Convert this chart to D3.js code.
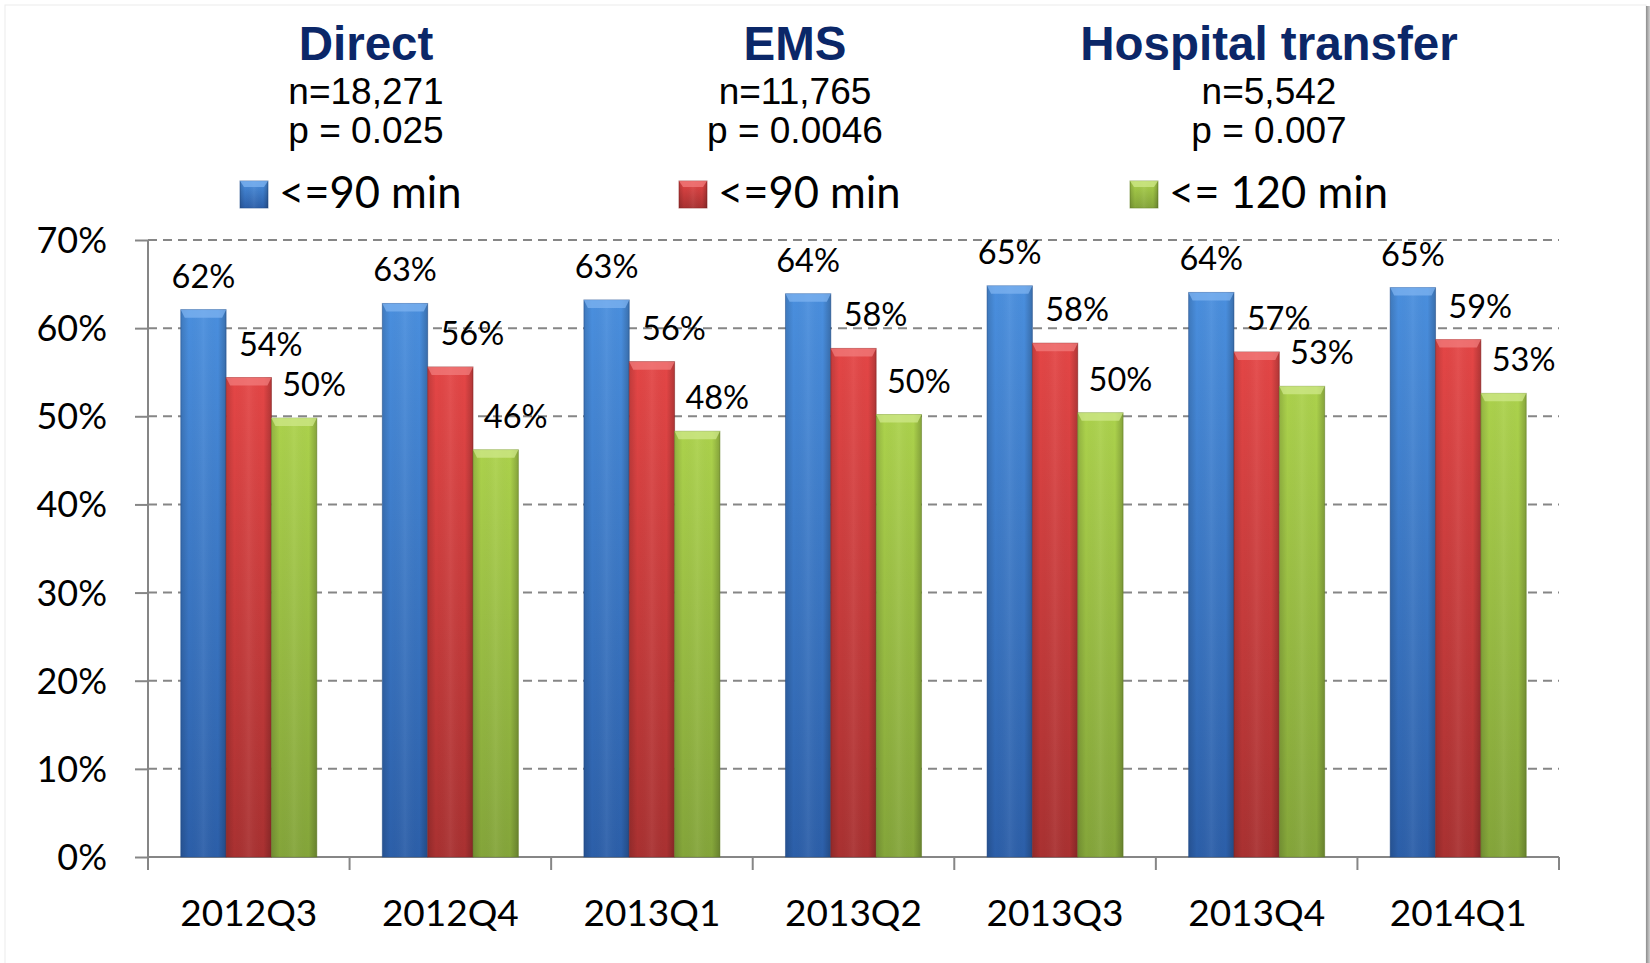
<!DOCTYPE html>
<html>
<head>
<meta charset="utf-8">
<title>Door-to-balloon by arrival mode</title>
<style>
body { margin: 0; background: #fff; }
.grid line { stroke: #868686; stroke-width: 2px; stroke-dasharray: 9, 6; }
.axis path, .axis line { stroke: #868686; stroke-width: 2px; fill: none; }
.cal { font-family: Lato, "Open Sans", sans-serif; fill: #000; }
.ttl { font-family: "Liberation Sans", Arial, sans-serif; font-weight: bold; fill: #0b2768; }
.sub { font-family: "Liberation Sans", Arial, sans-serif; fill: #000; }
</style>
</head>
<body>
<script src="https://cdn.jsdelivr.net/npm/d3@7"></script>
<script>

var quarters = ["2012Q3", "2012Q4", "2013Q1", "2013Q2", "2013Q3", "2013Q4", "2014Q1"];
var direct = [62.1, 62.8, 63.2, 63.9, 64.8, 64.05, 64.6];
var ems = [54.4, 55.6, 56.2, 57.7, 58.3, 57.3, 58.7];
var transfer = [49.8, 46.2, 48.3, 50.2, 50.4, 53.4, 52.6];
var yTicks = [0, 10, 20, 30, 40, 50, 60, 70];

var groupTitles = ["Direct", "EMS", "Hospital transfer"];
var groupN = ["n=18,271", "n=11,765", "n=5,542"];
var groupP = ["p = 0.025", "p = 0.0046", "p = 0.007"];
var legendLabels = ["<=90 min", "<=90 min", "<= 120 min"];

var series = [
  {key: "direct", values: direct, top: "#4a8fde", bot: "#2c5fa9", bevel: "#7db3f0", edge: "#24508f", dx: 0},
  {key: "ems", values: ems, top: "#e44646", bot: "#a93131", bevel: "#f27c7c", edge: "#8c2727", dx: 22},
  {key: "transfer", values: transfer, top: "#acd24c", bot: "#84a53a", bevel: "#cfe889", edge: "#6c8a2c", dx: 20}
];

var width = 1650, height = 963;
var plotL = 148, plotR = 1559, plotT = 240, plotB = 857;

var svg = d3.select("body").append("svg")
    .attr("width", width)
    .attr("height", height);

var defs = svg.append("defs");

series.forEach(function(s) {
  var g = defs.append("linearGradient").attr("id", "v-" + s.key)
      .attr("x1", 0).attr("y1", 0).attr("x2", 0).attr("y2", 1);
  g.append("stop").attr("offset", "0%").attr("stop-color", s.top);
  g.append("stop").attr("offset", "100%").attr("stop-color", s.bot);
});

var hs = defs.append("linearGradient").attr("id", "shade")
    .attr("x1", 0).attr("y1", 0).attr("x2", 1).attr("y2", 0);
hs.append("stop").attr("offset", "0%").attr("stop-color", "#000").attr("stop-opacity", 0.15);
hs.append("stop").attr("offset", "18%").attr("stop-color", "#000").attr("stop-opacity", 0);
hs.append("stop").attr("offset", "50%").attr("stop-color", "#fff").attr("stop-opacity", 0.06);
hs.append("stop").attr("offset", "82%").attr("stop-color", "#000").attr("stop-opacity", 0);
hs.append("stop").attr("offset", "100%").attr("stop-color", "#000").attr("stop-opacity", 0.22);

var sh = defs.append("linearGradient").attr("id", "frameShadow")
    .attr("x1", 0).attr("y1", 0).attr("x2", 1).attr("y2", 0);
sh.append("stop").attr("offset", "0%").attr("stop-color", "#8c8c8c");
sh.append("stop").attr("offset", "100%").attr("stop-color", "#d0d0d0");

// chart frame
svg.append("rect")
    .attr("x", 5).attr("y", 5).attr("width", 1641).attr("height", 1000)
    .attr("fill", "#fff").attr("stroke", "#ececec").attr("stroke-width", 1);
svg.append("rect")
    .attr("x", 1646).attr("y", 6).attr("width", 4).attr("height", 1000)
    .attr("fill", "url(#frameShadow)");

var x = d3.scaleBand()
    .domain(quarters)
    .range([plotL, plotR])
    .paddingInner(0.325)
    .paddingOuter(0.1625);

var xs = d3.scaleBand()
    .domain(series.map(function(s) { return s.key; }))
    .range([0, x.bandwidth()]);

var y = d3.scaleLinear()
    .domain([0, 70])
    .range([plotB, plotT]);

// gridlines
svg.append("g").attr("class", "grid")
  .selectAll("line")
  .data(yTicks.filter(function(d) { return d > 0; }))
  .enter().append("line")
    .attr("x1", plotL).attr("x2", plotR)
    .attr("y1", function(d) { return y(d); })
    .attr("y2", function(d) { return y(d); });

// y axis
var yAxis = svg.append("g").attr("class", "axis")
    .attr("transform", "translate(" + plotL + ",0)")
    .call(d3.axisLeft(y).tickValues(yTicks).tickSize(13).tickFormat(""));
yAxis.select(".domain").attr("d", "M0," + plotT + "V" + plotB);

svg.append("g").selectAll("text")
  .data(yTicks)
  .enter().append("text")
    .attr("class", "cal")
    .attr("x", 107)
    .attr("y", function(d) { return y(d); })
    .attr("dy", "0.36em")
    .attr("text-anchor", "end")
    .style("font-size", "36px")
    .text(function(d) { return d + "%"; });

// x axis
var bounds = quarters.map(function(q) { return x(q) - x.step() * x.paddingInner() / 2; });
bounds.push(plotR);
var xAxis = svg.append("g").attr("class", "axis");
xAxis.append("line")
    .attr("x1", plotL).attr("x2", plotR)
    .attr("y1", plotB).attr("y2", plotB);
xAxis.selectAll("line.tick")
  .data(bounds)
  .enter().append("line")
    .attr("class", "tick")
    .attr("x1", function(d) { return d; }).attr("x2", function(d) { return d; })
    .attr("y1", plotB).attr("y2", plotB + 13);

svg.append("g").selectAll("text")
  .data(quarters)
  .enter().append("text")
    .attr("class", "cal")
    .attr("x", function(d) { return x(d) + x.bandwidth() / 2; })
    .attr("y", 926)
    .attr("text-anchor", "middle")
    .style("font-size", "37px")
    .text(function(d) { return d; });

// bars
var groups = svg.append("g").selectAll("g")
  .data(series)
  .enter().append("g");

var bev = 8;

groups.each(function(s) {
  var g = d3.select(this);
  var rows = s.values.map(function(v, i) { return {q: quarters[i], v: v}; });

  g.selectAll("rect.bar")
    .data(rows)
    .enter().append("rect")
      .attr("class", "bar")
      .attr("x", function(d) { return x(d.q) + xs(s.key); })
      .attr("y", function(d) { return y(d.v); })
      .attr("width", xs.bandwidth())
      .attr("height", function(d) { return plotB - y(d.v); })
      .attr("fill", "url(#v-" + s.key + ")")
      .attr("stroke", s.edge)
      .attr("stroke-opacity", 0.5)
      .attr("stroke-width", 1);

  g.selectAll("rect.shade")
    .data(rows)
    .enter().append("rect")
      .attr("class", "shade")
      .attr("x", function(d) { return x(d.q) + xs(s.key); })
      .attr("y", function(d) { return y(d.v); })
      .attr("width", xs.bandwidth())
      .attr("height", function(d) { return plotB - y(d.v); })
      .attr("fill", "url(#shade)");

  // top bevel
  g.selectAll("path.bevel")
    .data(rows)
    .enter().append("path")
      .attr("class", "bevel")
      .attr("d", function(d) {
        var x0 = x(d.q) + xs(s.key), x1 = x0 + xs.bandwidth(), t = y(d.v);
        return "M" + x0 + "," + t + "L" + x1 + "," + t +
               "L" + (x1 - 4) + "," + (t + bev) + "L" + (x0 + 4) + "," + (t + bev) + "Z";
      })
      .attr("fill", s.bevel)
      .attr("fill-opacity", 0.75);

  // value labels
  g.selectAll("text")
    .data(rows)
    .enter().append("text")
      .attr("class", "cal")
      .attr("x", function(d) { return x(d.q) + xs(s.key) + xs.bandwidth() / 2 + s.dx; })
      .attr("y", function(d) { return y(d.v) - 22; })
      .attr("text-anchor", "middle")
      .style("font-size", "32.5px")
      .text(function(d) { return Math.round(d.v) + "%"; });
});

// headers
var headX = [366, 795, 1269];
var head = svg.append("g").selectAll("g")
  .data(groupTitles)
  .enter().append("g");

head.append("text")
    .attr("class", "ttl")
    .attr("x", function(d, i) { return headX[i]; })
    .attr("y", 60)
    .attr("text-anchor", "middle")
    .style("font-size", "47.5px")
    .text(function(d) { return d; });

head.append("text")
    .attr("class", "sub")
    .attr("x", function(d, i) { return headX[i]; })
    .attr("y", 104)
    .attr("text-anchor", "middle")
    .style("font-size", "37px")
    .text(function(d, i) { return groupN[i]; });

head.append("text")
    .attr("class", "sub")
    .attr("x", function(d, i) { return headX[i]; })
    .attr("y", 143)
    .attr("text-anchor", "middle")
    .style("font-size", "37px")
    .text(function(d, i) { return groupP[i]; });

// legend
var legX = [240, 679, 1130];
var leg = svg.append("g").selectAll("g")
  .data(series)
  .enter().append("g")
    .attr("transform", function(d, i) { return "translate(" + legX[i] + ",181)"; });

leg.append("rect")
    .attr("width", 28).attr("height", 27)
    .attr("fill", function(d) { return "url(#v-" + d.key + ")"; })
    .attr("stroke", function(d) { return d.edge; })
    .attr("stroke-opacity", 0.6);
leg.append("rect")
    .attr("width", 28).attr("height", 27)
    .attr("fill", "url(#shade)");
leg.append("path")
    .attr("d", "M0,0L28,0L24,6L4,6Z")
    .attr("fill", function(d) { return d.bevel; })
    .attr("fill-opacity", 0.75);

leg.append("text")
    .attr("class", "cal")
    .attr("x", 39)
    .attr("y", 27)
    .style("font-size", "43.5px")
    .text(function(d, i) { return legendLabels[i]; });

</script>
</body>
</html>
